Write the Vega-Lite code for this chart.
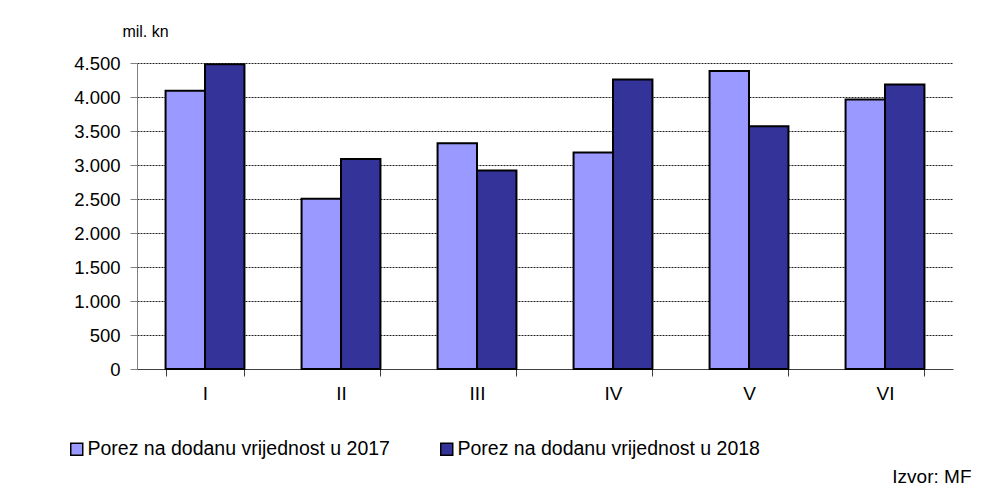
{
  "$schema": "https://vega.github.io/schema/vega-lite/v6.json",
  "width": 816,
  "height": 306,
  "padding": {"left": 137, "top": 63, "right": 42, "bottom": 126},
  "autosize": {"type": "none"},
  "background": "white",
  "data": {
    "values": [
      {"mjesec": "I", "serija": "Porez na dodanu vrijednost u 2017", "vrijednost": 4092},
      {"mjesec": "I", "serija": "Porez na dodanu vrijednost u 2018", "vrijednost": 4481},
      {"mjesec": "II", "serija": "Porez na dodanu vrijednost u 2017", "vrijednost": 2505},
      {"mjesec": "II", "serija": "Porez na dodanu vrijednost u 2018", "vrijednost": 3088},
      {"mjesec": "III", "serija": "Porez na dodanu vrijednost u 2017", "vrijednost": 3320},
      {"mjesec": "III", "serija": "Porez na dodanu vrijednost u 2018", "vrijednost": 2920},
      {"mjesec": "IV", "serija": "Porez na dodanu vrijednost u 2017", "vrijednost": 3182},
      {"mjesec": "IV", "serija": "Porez na dodanu vrijednost u 2018", "vrijednost": 4256},
      {"mjesec": "V", "serija": "Porez na dodanu vrijednost u 2017", "vrijednost": 4382},
      {"mjesec": "V", "serija": "Porez na dodanu vrijednost u 2018", "vrijednost": 3569},
      {"mjesec": "VI", "serija": "Porez na dodanu vrijednost u 2017", "vrijednost": 3962},
      {"mjesec": "VI", "serija": "Porez na dodanu vrijednost u 2018", "vrijednost": 4182}
    ]
  },
  "mark": {"type": "bar", "stroke": "#000000", "strokeWidth": 2},
  "encoding": {
    "x": {
      "field": "mjesec",
      "type": "nominal",
      "sort": ["I", "II", "III", "IV", "V", "VI"],
      "scale": {"paddingInner": 0.42, "paddingOuter": 0.21},
      "axis": {
        "title": "Izvor: MF",
        "titleFontSize": 19,
        "titleFontWeight": "normal",
        "titleFont": "Liberation Sans",
        "titleColor": "#000000",
        "titleAnchor": "end",
        "titleAlign": "right",
        "titleBaseline": "middle",
        "titleX": 834,
        "titleY": 107,
        "labelAngle": 0,
        "labelFontSize": 19,
        "labelFont": "Liberation Sans",
        "labelColor": "#000000",
        "labelPadding": 8,
        "tickBand": "extent",
        "tickSize": 7,
        "tickColor": "#404040",
        "domainColor": "#404040",
        "domainWidth": 1,
        "grid": false
      }
    },
    "xOffset": {"field": "serija", "type": "nominal"},
    "y": {
      "field": "vrijednost",
      "type": "quantitative",
      "scale": {"domain": [0, 4500], "nice": false},
      "axis": {
        "title": "mil. kn",
        "titleAngle": 0,
        "titleFontSize": 16,
        "titleFontWeight": "normal",
        "titleFont": "Liberation Sans",
        "titleColor": "#000000",
        "titleAlign": "center",
        "titleBaseline": "middle",
        "titleX": 8,
        "titleY": -32,
        "values": [0, 500, 1000, 1500, 2000, 2500, 3000, 3500, 4000, 4500],
        "labelExpr": "replace(format(datum.value, ',d'), ',', '.')",
        "labelFontSize": 18.5,
        "labelFont": "Liberation Sans",
        "labelColor": "#000000",
        "labelPadding": 10,
        "tickSize": 7,
        "tickColor": "#808080",
        "domainColor": "#808080",
        "domainWidth": 1,
        "grid": true,
        "gridColor": "#222222",
        "gridDash": [2, 1],
        "gridWidth": 1
      }
    },
    "color": {
      "field": "serija",
      "type": "nominal",
      "scale": {"range": ["#9999FF", "#333399"]},
      "legend": {
        "title": null,
        "orient": "none",
        "direction": "horizontal",
        "legendX": -70,
        "legendY": 376,
        "padding": 0,
        "symbolType": "square",
        "symbolSize": 144,
        "symbolStrokeColor": "#000000",
        "symbolStrokeWidth": 1.5,
        "labelFontSize": 19.5,
        "labelFont": "Liberation Sans",
        "labelColor": "#000000",
        "labelOffset": 1,
        "columnPadding": 47,
        "labelLimit": 500
      }
    }
  },
  "config": {
    "view": {"stroke": null},
    "axis": {"labelFlush": false, "labelOverlap": false}
  }
}
